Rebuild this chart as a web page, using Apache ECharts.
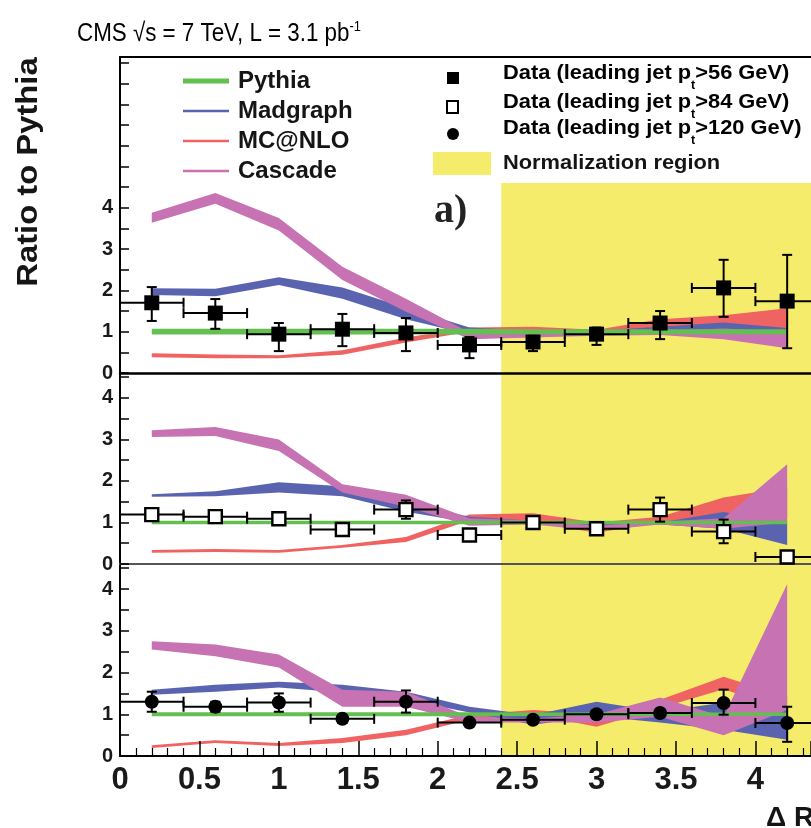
<!DOCTYPE html>
<html>
<head>
<meta charset="utf-8">
<script src="https://cdn.jsdelivr.net/npm/echarts@6/dist/echarts.min.js"></script>
<style>
  html, body { margin: 0; padding: 0; background: #ffffff; }
  #chart { width: 811px; height: 828px; }
</style>
</head>
<body>
<div id="chart"></div>
<script>
// Bin centres in Delta R (bins are 0.4 wide)
const dR = [0.2, 0.6, 1.0, 1.4, 1.8, 2.2, 2.6, 3.0, 3.4, 3.8, 4.2];
const binHalfWidth = 0.2;
const xRange = [0, 4.35];
const normRegion = [2.4, 4.35];
const normTop = 4.6;

// Panel a) leading jet pt > 56 GeV
const pythiaA_lo   = [0.93, 0.93, 0.93, 0.93, 0.93, 0.93, 0.94, 0.94, 0.94, 0.94, 0.94];
const pythiaA_hi   = [1.07, 1.07, 1.07, 1.07, 1.07, 1.07, 1.06, 1.06, 1.06, 1.06, 1.06];
const madgraphA_lo = [1.89, 1.86, 2.13, 1.80, 1.30, 0.93, 0.94, 0.95, 0.98, 1.04, 0.63];
const madgraphA_hi = [2.05, 2.04, 2.32, 2.07, 1.58, 1.10, 1.02, 1.02, 1.12, 1.22, 1.09];
const mcnloA_lo    = [0.38, 0.36, 0.36, 0.44, 0.74, 1.00, 1.02, 0.92, 1.05, 1.10, 1.09];
const mcnloA_hi    = [0.48, 0.45, 0.43, 0.55, 0.86, 1.10, 1.12, 1.05, 1.30, 1.40, 1.57];
const cascadeA_lo  = [3.64, 4.10, 3.45, 2.25, 1.48, 0.82, 0.86, 0.90, 0.92, 0.82, 0.60];
const cascadeA_hi  = [3.88, 4.36, 3.75, 2.57, 1.80, 0.98, 0.96, 0.98, 1.02, 1.08, 1.00];
const dataA        = [1.70, 1.45, 0.94, 1.06, 0.97, 0.68, 0.75, 0.94, 1.21, 2.06, 1.74];
const dataA_errUp  = [0.38, 0.34, 0.27, 0.37, 0.36, 0.19, 0.15, 0.16, 0.29, 0.68, 1.12];
const dataA_errDn  = [0.44, 0.38, 0.41, 0.41, 0.44, 0.32, 0.22, 0.26, 0.39, 0.70, 1.14];

// Panel b) leading jet pt > 84 GeV
const pythiaB_lo   = [0.96, 0.96, 0.96, 0.96, 0.96, 0.96, 0.96, 0.96, 0.96, 0.96, 0.96];
const pythiaB_hi   = [1.04, 1.04, 1.04, 1.04, 1.04, 1.04, 1.04, 1.04, 1.04, 1.04, 1.04];
const madgraphB_lo = [1.62, 1.63, 1.72, 1.63, 1.26, 1.00, 0.96, 0.94, 0.95, 0.85, 0.46];
const madgraphB_hi = [1.68, 1.75, 1.97, 1.87, 1.48, 1.14, 1.04, 1.00, 1.00, 1.25, 1.00];
const mcnloB_lo    = [0.27, 0.29, 0.27, 0.39, 0.53, 1.05, 1.00, 0.75, 1.00, 1.05, 1.10];
const mcnloB_hi    = [0.34, 0.36, 0.34, 0.46, 0.65, 1.19, 1.22, 1.00, 1.14, 1.60, 1.85];
const cascadeB_lo  = [3.06, 3.08, 2.72, 1.72, 1.38, 0.92, 0.95, 0.80, 0.95, 0.85, 1.00];
const cascadeB_hi  = [3.22, 3.30, 3.00, 1.92, 1.67, 1.10, 1.05, 0.92, 1.02, 1.10, 2.40];
const dataB        = [1.19, 1.14, 1.09, 0.83, 1.31, 0.70, 1.00, 0.85, 1.31, 0.78, 0.17];
const dataB_errUp  = [0.12, 0.12, 0.12, 0.12, 0.22, 0.12, 0.08, 0.06, 0.29, 0.29, 0.08];
const dataB_errDn  = [0.12, 0.12, 0.12, 0.14, 0.22, 0.12, 0.08, 0.06, 0.29, 0.28, 0.08];

// Panel c) leading jet pt > 120 GeV
const pythiaC_lo   = [0.95, 0.95, 0.95, 0.95, 0.95, 0.95, 0.96, 0.96, 0.96, 0.96, 0.96];
const pythiaC_hi   = [1.05, 1.05, 1.05, 1.05, 1.05, 1.05, 1.04, 1.04, 1.04, 1.04, 1.04];
const madgraphC_lo = [1.47, 1.54, 1.64, 1.52, 1.35, 1.04, 0.75, 0.95, 0.80, 0.63, 0.39];
const madgraphC_hi = [1.59, 1.71, 1.78, 1.71, 1.54, 1.18, 0.98, 1.30, 1.06, 1.28, 1.10];
const mcnloC_lo    = [0.19, 0.31, 0.24, 0.31, 0.50, 0.87, 1.00, 0.70, 1.15, 1.60, 1.10];
const mcnloC_hi    = [0.26, 0.38, 0.31, 0.43, 0.63, 0.99, 1.10, 1.00, 1.35, 1.90, 1.42];
const cascadeC_lo  = [2.55, 2.39, 2.12, 1.18, 1.18, 0.80, 0.80, 0.80, 0.94, 0.50, 1.10];
const cascadeC_hi  = [2.75, 2.67, 2.43, 1.59, 1.54, 0.94, 0.90, 1.00, 1.40, 0.94, 4.12];
const dataC        = [1.30, 1.18, 1.28, 0.89, 1.30, 0.80, 0.87, 1.00, 1.03, 1.27, 0.79];
const dataC_errUp  = [0.24, 0.12, 0.22, 0.10, 0.27, 0.06, 0.06, 0.06, 0.10, 0.32, 0.39];
const dataC_errDn  = [0.24, 0.12, 0.22, 0.10, 0.26, 0.06, 0.06, 0.06, 0.10, 0.28, 0.45];

const yMax = [7.65, 4.6, 4.6];
const xTickLabels = ['0', '0.5', '1', '1.5', '2', '2.5', '3', '3.5', '4'];

const COLORS = {
  pythia: '#63bf4f',
  madgraph: '#5a63b0',
  mcnlo: '#f06363',
  cascade: '#c672b3',
  norm: '#f6ec6b'
};
const FONT = 'Liberation Sans, Arial, Helvetica, sans-serif';

// Filled uncertainty band between lo and hi, drawn as one polygon through the axes
function band(name, lo, hi, color, idx, z) {
  return {
    type: 'custom', name: name, xAxisIndex: idx, yAxisIndex: idx, z: z,
    silent: true, clip: true,
    data: dR.map((x, i) => [x, lo[i], hi[i]]),
    encode: { x: 0, y: [1, 2] },
    renderItem: function (params, api) {
      if (params.dataIndex !== 0) return null;
      const upper = dR.map((x, i) => api.coord([x, hi[i]]));
      const lower = dR.map((x, i) => api.coord([x, lo[i]])).reverse();
      return { type: 'polygon', shape: { points: upper.concat(lower) }, style: { fill: color } };
    }
  };
}

// Normalisation region rectangle
function normBox(idx) {
  return {
    type: 'custom', xAxisIndex: idx, yAxisIndex: idx, z: 1, silent: true, clip: true,
    data: [[normRegion[0], 0, normRegion[1], normTop]],
    renderItem: function (params, api) {
      const p0 = api.coord([api.value(0), api.value(1)]);
      const p1 = api.coord([api.value(2), api.value(3)]);
      return { type: 'rect', shape: { x: p0[0], y: p1[1], width: p1[0] - p0[0], height: p0[1] - p1[1] },
               style: { fill: COLORS.norm } };
    }
  };
}

// Data error bars: vertical uncertainty with caps, horizontal bin width with end ticks
function errorBars(vals, up, dn, idx) {
  return {
    type: 'custom', xAxisIndex: idx, yAxisIndex: idx, z: 8, silent: true, clip: true,
    data: dR.map((x, i) => [x, vals[i], up[i], dn[i]]),
    renderItem: function (params, api) {
      const x = api.value(0), y = api.value(1), eu = api.value(2), ed = api.value(3);
      const top = api.coord([x, y + eu]), bot = api.coord([x, y - ed]);
      const left = api.coord([x - binHalfWidth, y]), right = api.coord([x + binHalfWidth, y]);
      const st = { stroke: '#000', lineWidth: 2 };
      const cap = 5;
      const L = (x1, y1, x2, y2) => ({ type: 'line', shape: { x1, y1, x2, y2 }, style: st });
      return { type: 'group', children: [
        L(top[0], top[1], bot[0], bot[1]),
        L(top[0] - cap, top[1], top[0] + cap, top[1]),
        L(bot[0] - cap, bot[1], bot[0] + cap, bot[1]),
        L(left[0], left[1], right[0], right[1]),
        L(left[0], left[1] - cap, left[0], left[1] + cap),
        L(right[0], right[1] - cap, right[0], right[1] + cap)
      ]};
    }
  };
}

function markers(vals, idx, symbol, size, fill) {
  return {
    type: 'scatter', xAxisIndex: idx, yAxisIndex: idx, z: 9, silent: true,
    symbol: symbol, symbolSize: size,
    itemStyle: { color: fill, borderColor: '#000', borderWidth: fill === '#000' ? 0 : 2.4, opacity: 1 },
    data: dR.map((x, i) => [x, vals[i]])
  };
}

const panels = [
  { py: [pythiaA_lo, pythiaA_hi], mg: [madgraphA_lo, madgraphA_hi], mc: [mcnloA_lo, mcnloA_hi], cs: [cascadeA_lo, cascadeA_hi],
    d: [dataA, dataA_errUp, dataA_errDn], sym: ['rect', 15, '#000'] },
  { py: [pythiaB_lo, pythiaB_hi], mg: [madgraphB_lo, madgraphB_hi], mc: [mcnloB_lo, mcnloB_hi], cs: [cascadeB_lo, cascadeB_hi],
    d: [dataB, dataB_errUp, dataB_errDn], sym: ['rect', 13, '#fff'] },
  { py: [pythiaC_lo, pythiaC_hi], mg: [madgraphC_lo, madgraphC_hi], mc: [mcnloC_lo, mcnloC_hi], cs: [cascadeC_lo, cascadeC_hi],
    d: [dataC, dataC_errUp, dataC_errDn], sym: ['circle', 14, '#000'] }
];

const series = [];
panels.forEach((p, i) => {
  series.push(normBox(i));
  series.push(band('MC@NLO', p.mc[0], p.mc[1], COLORS.mcnlo, i, 2));
  series.push(band('Madgraph', p.mg[0], p.mg[1], COLORS.madgraph, i, 3));
  series.push(band('Cascade', p.cs[0], p.cs[1], COLORS.cascade, i, 4));
  series.push(band('Pythia', p.py[0], p.py[1], COLORS.pythia, i, 5));
  series.push(errorBars(p.d[0], p.d[1], p.d[2], i));
  series.push(markers(p.d[0], i, p.sym[0], p.sym[1], p.sym[2]));
});

const grids = [
  { left: 120, right: 0, top: 57,  height: 316, containLabel: false, outerBoundsMode: 'none' },
  { left: 120, right: 0, top: 373, height: 191, containLabel: false, outerBoundsMode: 'none' },
  { left: 120, right: 0, top: 564, height: 192, containLabel: false, outerBoundsMode: 'none' }
];

const yAxes = grids.map((g, i) => ({
  type: 'value', gridIndex: i, min: 0, max: yMax[i], interval: 0.5, z: 6,
  axisLine: { show: true, lineStyle: { color: '#000', width: 2 } },
  axisTick: { show: true, inside: true, length: 9, lineStyle: { color: '#000', width: 1.5 } },
  splitLine: { show: false },
  axisLabel: {
    margin: 7, color: '#1a1a1a', fontFamily: FONT, fontWeight: 'bold', fontSize: 20,
    formatter: v => (Number.isInteger(v) && v <= 4) ? String(v) : ''
  }
}));

const xAxes = [
  { type: 'value', gridIndex: 0, min: xRange[0], max: xRange[1], z: 6,
    axisLine: { show: true, onZero: false, lineStyle: { color: '#000', width: 2.5 } },
    axisTick: { show: false }, axisLabel: { show: false }, splitLine: { show: false } },
  { type: 'value', gridIndex: 1, min: xRange[0], max: xRange[1], z: 6,
    axisLine: { show: true, onZero: false, lineStyle: { color: '#555', width: 2 } },
    axisTick: { show: false }, axisLabel: { show: false }, splitLine: { show: false } },
  { type: 'value', gridIndex: 2, min: xRange[0], max: xRange[1], interval: 0.5, z: 6,
    axisLine: { show: true, onZero: false, lineStyle: { color: '#000', width: 2 } },
    axisTick: { show: true, inside: true, length: 15, lineStyle: { color: '#000', width: 1.5 } },
    minorTick: { show: true, splitNumber: 5, length: 8, lineStyle: { color: '#000', width: 1.2 } },
    splitLine: { show: false }, minorSplitLine: { show: false },
    axisLabel: { margin: 9, color: '#1a1a1a', fontFamily: FONT, fontWeight: 'bold', fontSize: 31,
      showMaxLabel: false,
      formatter: v => { const s = String(v); return xTickLabels.indexOf(s) >= 0 ? s : ''; } } },
  { type: 'value', gridIndex: 0, position: 'top', min: xRange[0], max: xRange[1], z: 6,
    axisLine: { show: true, onZero: false, lineStyle: { color: '#000', width: 2 } },
    axisTick: { show: false }, axisLabel: { show: false }, splitLine: { show: false } }
];

// Legend, titles and panel tag
const legendLeft = [
  ['Pythia', COLORS.pythia, 5, 81],
  ['Madgraph', COLORS.madgraph, 2.5, 111],
  ['MC@NLO', COLORS.mcnlo, 2.5, 141],
  ['Cascade', COLORS.cascade, 2.5, 171]
];
const graphics = [];
legendLeft.forEach(([label, color, w, y]) => {
  graphics.push({ type: 'line', shape: { x1: 183, y1: y, x2: 229, y2: y }, style: { stroke: color, lineWidth: w }, z: 20 });
  graphics.push({ type: 'text', x: 238, y: y, z: 20,
    style: { text: label, font: 'bold 24px ' + FONT, fill: '#151515', textVerticalAlign: 'middle' } });
});

const richData = {
  m: { fontFamily: FONT, fontWeight: 'bold', fontSize: 21, lineHeight: 38, verticalAlign: 'middle', color: '#151515' },
  s: { fontFamily: FONT, fontWeight: 'bold', fontSize: 12, lineHeight: 10, verticalAlign: 'bottom', color: '#151515' }
};
const legendRight = [
  ['>56 GeV)', 73], ['>84 GeV)', 102], ['>120 GeV)', 128]
];
legendRight.forEach(([tail, y]) => {
  graphics.push({ type: 'text', x: 503, y: y, z: 20, scaleX: 1.04,
    style: { text: '{m|Data (leading jet p}{s|t}{m|' + tail + '}', rich: richData, textVerticalAlign: 'middle' } });
});
graphics.push({ type: 'rect', shape: { x: 447, y: 72, width: 12, height: 12 }, style: { fill: '#000' }, z: 20 });
graphics.push({ type: 'rect', shape: { x: 447, y: 101, width: 11, height: 12 }, style: { fill: '#fff', stroke: '#000', lineWidth: 2 }, z: 20 });
graphics.push({ type: 'circle', shape: { cx: 453, cy: 134, r: 6 }, style: { fill: '#000' }, z: 20 });
graphics.push({ type: 'rect', shape: { x: 433, y: 152, width: 58, height: 23 }, style: { fill: COLORS.norm }, z: 20 });
graphics.push({ type: 'text', x: 503, y: 163, z: 20, scaleX: 1.04,
  style: { text: 'Normalization region', font: 'bold 21px ' + FONT, fill: '#151515', textVerticalAlign: 'middle' } });

graphics.push({ type: 'text', x: 77, y: 34, z: 20, scaleX: 0.86,
  style: { text: '{m|CMS √s = 7 TeV, L = 3.1 pb}{s|-1}', textVerticalAlign: 'middle',
    rich: {
      m: { fontFamily: FONT, fontSize: 26, lineHeight: 30, verticalAlign: 'middle', color: '#111', textStrokeWidth: 0 },
      s: { fontFamily: FONT, fontSize: 15, lineHeight: 14, verticalAlign: 'top', color: '#111' }
    } } });
graphics.push({ type: 'text', x: 29, y: 172, rotation: Math.PI / 2, scaleX: 1.13, z: 20,
  style: { text: 'Ratio to Pythia', font: 'bold 29px ' + FONT, fill: '#151515', textAlign: 'center', textVerticalAlign: 'middle' } });
graphics.push({ type: 'text', x: 434, y: 212, z: 20,
  style: { text: 'a)', font: 'bold 40px Liberation Serif, DejaVu Serif, serif', fill: '#222', textVerticalAlign: 'middle' } });
graphics.push({ type: 'text', x: 766, y: 818, z: 20,
  style: { text: 'Δ R', font: 'bold 28px ' + FONT, fill: '#151515', textVerticalAlign: 'middle' } });

const chart = echarts.init(document.getElementById('chart'), null, { renderer: 'canvas' });
chart.setOption({
  animation: false,
  backgroundColor: '#ffffff',
  grid: grids,
  xAxis: xAxes,
  yAxis: yAxes,
  series: series,
  graphic: graphics
});
</script>
</body>
</html>
